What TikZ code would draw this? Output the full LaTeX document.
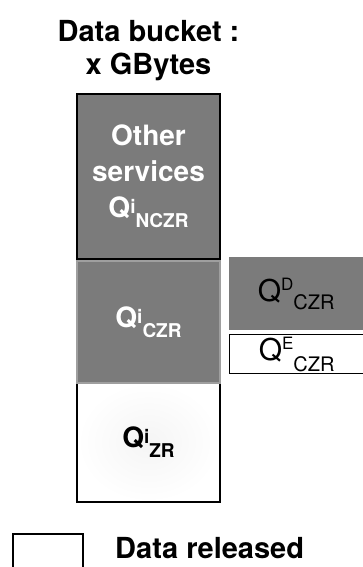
\documentclass[tikz,border=0pt]{standalone}
\usepackage{fontspec}
\setmainfont{TeX Gyre Heros}
\usetikzlibrary{positioning}
\definecolor{boxgray}{RGB}{123,123,123}
\tikzset{bucket/.style=
   {rectangle,
    inner sep=0pt,
    minimum width=143pt,
    text centered}}
\tikzset{sidebox/.style=
   {rectangle,
    inner sep=0pt,
    minimum width=142pt,
    anchor=north west}}
\tikzset{bigtext/.style = {font=\fontsize{29}{33}\selectfont\bfseries}}
% Q with a superscript and a subscript written one after the other
\newcommand{\qbold}[2]{Q\raisebox{4pt}{\fontsize{19}{19}\selectfont #1}\raisebox{-10pt}{\fontsize{19}{19}\selectfont #2}}
\newcommand{\qplain}[3]{Q\raisebox{11pt}{\fontsize{17}{17}\selectfont #1}\raisebox{-#3}{\fontsize{20}{20}\selectfont #2}}

\begin{document}
\begin{tikzpicture}[x=1pt, y=-1pt]

    \useasboundingbox (0,0) rectangle (363,567);

    % Bucket
    \node [bucket, draw, line width=2pt, fill=boxgray, text=white,
           minimum height=165pt, anchor=north west,
           font=\fontsize{28}{36}\selectfont\bfseries, align=center]
          (nczr) at (76,93) {Other\\services\\\qbold{i}{NCZR}};
    \node [bigtext, align=center, above=9pt of nczr] (title) {Data bucket :\\x GBytes};
    \node [bucket, minimum height=120pt, below=122pt of nczr,
           shading=radial, inner color=black!4, outer color=white,
           font=\fontsize{28}{28}\selectfont\bfseries]
          (zr) {\qbold{i}{ZR}};
    \draw [line width=2pt] (zr.north west) -- (zr.south west) -- (zr.south east) -- (zr.north east);
    \node [bucket, minimum height=122pt, below=0pt of nczr,
           fill=boxgray, draw=gray!75, line width=2pt, text=white,
           font=\fontsize{28}{28}\selectfont\bfseries]
          (czr) {\qbold{i}{CZR}};

    % Split of the CZR part
    \node [sidebox, fill=boxgray, minimum height=73pt,
           font=\fontsize{30}{30}\selectfont]
          (qd) at (229,257) {\hspace*{-8pt}\qplain{D}{CZR}{8pt}};
    \node [sidebox, draw, line width=1.3pt, minimum height=39pt,
           font=\fontsize{30}{30}\selectfont]
          (qe) at (229,334) {\hspace*{-8pt}\qplain{E}{CZR}{11pt}};

    % Legend
    \node [rectangle, draw, line width=1.5pt, minimum width=70pt, minimum height=45pt,
           inner sep=0pt, anchor=north west] (legend) at (12,533) {};
    \node [bigtext, anchor=base west, inner sep=0pt] (released) at (115,558) {Data released};

\end{tikzpicture}
\end{document}
